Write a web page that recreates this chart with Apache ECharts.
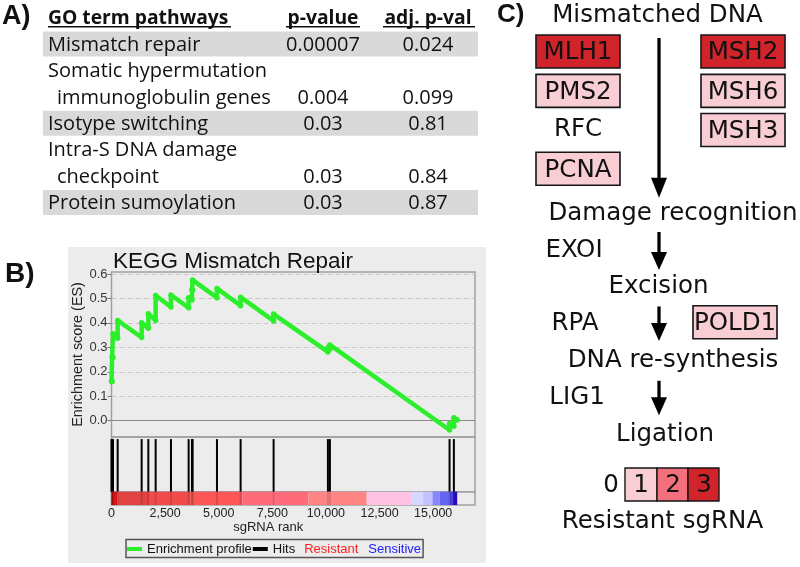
<!DOCTYPE html>
<html><head><meta charset="utf-8">
<script src="https://cdn.jsdelivr.net/npm/echarts@6/dist/echarts.min.js"></script>
<style>html,body{margin:0;padding:0;background:#fff}#c{width:800px;height:567px}</style>
</head><body><div id="c"></div>
<script>
// ---------- Panel A data ----------
const tableHeaders = ['GO term pathways', 'p-value', 'adj. p-val'];
const goTerms = [['Mismatch repair'], ['Somatic hypermutation', 'immunoglobulin genes'], ['Isotype switching'], ['Intra-S DNA damage', 'checkpoint'], ['Protein sumoylation']];
const pValues = ['0.00007', '0.004', '0.03', '0.03', '0.03'];
const adjPValues = ['0.024', '0.099', '0.81', '0.84', '0.87'];

// ---------- Panel B data ----------
const plotTitle = 'KEGG Mismatch Repair';
const esProfile = [[0,0.16],[30,0.16],[30,0.26],[70,0.258],[70,0.355],[287,0.337],[287,0.41],[1406,0.34],[1406,0.40],[1717,0.378],[1717,0.437],[2059,0.41],[2059,0.512],[2773,0.465],[2773,0.514],[3597,0.462],[3597,0.503],[3752,0.494],[3752,0.535],[3783,0.533],[3783,0.575],[4918,0.503],[4918,0.541],[6021,0.47],[6021,0.505],[7559,0.408],[7559,0.436],[10092,0.281],[10092,0.298],[10185,0.293],[10185,0.31],[15763,-0.038],[15763,-0.011],[15965,-0.023],[15965,0.012],[16120,0.003]];
const hitRanks = [0,30,70,287,1406,1717,2059,2773,3597,3752,3783,4918,6021,7559,10092,10185,15763,15965];
const rankBins = [[0,270],[270,1750],[1750,3700],[3700,6100],[6100,9180],[9180,11900],[11900,13990],[13990,14530],[14530,14970],[14970,15310],[15310,15780],[15780,15930],[15930,16120]];
const rankMax = 16950;
const xTicks = [0, 2500, 5000, 7500, 10000, 12500, 15000];
const yTicks = [0, 0.1, 0.2, 0.3, 0.4, 0.5, 0.6];
const legendNames = ['Enrichment profile', 'Hits', 'Resistant', 'Sensitive'];

// ---------- Panel C data ----------
const steps = ['Mismatched DNA', 'Damage recognition', 'Excision', 'DNA re-synthesis', 'Ligation'];
const factors = ['RFC', 'EXOI', 'RPA', 'LIG1'];
const geneNames = ['MLH1', 'PMS2', 'PCNA', 'MSH2', 'MSH6', 'MSH3', 'POLD1'];
const geneLevels = [3, 1, 1, 3, 1, 1, 1];
const scaleLevels = [0, 1, 2, 3];
const scaleTitle = 'Resistant sgRNA';

// ---------- styles ----------
const binColors = ['#d91616','#e24242','#f14b4b','#fd5656','#ff6b7b','#ff8585','#ffc2e2','#d6d6ff','#c3c3ff','#8787ff','#6464f0','#4a40e0','#2a08c4'];
const levelColors = ['#ffffff', '#f8cdd3', '#f4707c', '#d0232a'];
const FA = 'Open Sans', FB = 'Liberation Sans', FC = 'DejaVu Sans';

const g = [];
function txt(x, y, text, size, family, opt) {
  opt = opt || {};
  g.push({type:'text', x:x, y:y, z:10, style:{text:text, fontSize:size, fontFamily:family, fontWeight:opt.bold?'bold':'normal', fill:opt.fill||'#111', align:opt.align||'left', verticalAlign:'middle'}});
}
// Panel labels
txt(2, 17, 'A)', 27, FB, {bold:true});
txt(5, 274, 'B)', 28, FB, {bold:true});
txt(497, 15, 'C)', 26, FB, {bold:true});

// ---------- Panel A ----------
const pitch = 26.4, firstLine = 44;
const colP = 323, colA = 428;
txt(48, 19, tableHeaders[0], 19.3, FA, {bold:true});
txt(colP, 19, tableHeaders[1], 19.3, FA, {bold:true, align:'center'});
txt(colA, 19, tableHeaders[2], 19.3, FA, {bold:true, align:'center'});
[[48,231],[286,360],[383,475]].forEach(u => g.push({type:'line', z:10, shape:{x1:u[0], y1:26.8, x2:u[1], y2:26.8}, style:{stroke:'#111', lineWidth:1.5}}));
let ln = 0;
goTerms.forEach((lines, i) => {
  if (i % 2 === 0) {
    const cy = firstLine + pitch * ln;
    g.push({type:'rect', z:1, shape:{x:43, y:cy - 12.5, width:435, height:25}, style:{fill:'#d9d9d9'}});
  }
  lines.forEach((t, j) => {
    txt(j === 0 ? 48 : 57, firstLine + pitch * ln + 1, t, 20, FA);
    if (j === lines.length - 1) {
      txt(colP, firstLine + pitch * ln + 1, pValues[i], 20, FA, {align:'center'});
      txt(colA, firstLine + pitch * ln + 1, adjPValues[i], 20, FA, {align:'center'});
    }
    ln++;
  });
});

// ---------- Panel B background ----------
g.push({type:'rect', z:-5, shape:{x:68, y:247, width:418, height:316}, style:{fill:'#ececec'}});

// ---------- Panel C ----------
const fc = 24.5;
txt(657.5, 16, steps[0], fc, FC, {align:'center'});
txt(673, 213.5, steps[1], fc, FC, {align:'center'});
txt(658.5, 286.2, steps[2], fc, FC, {align:'center'});
txt(673, 360.5, steps[3], fc, FC, {align:'center'});
txt(665, 435, steps[4], fc, FC, {align:'center'});
const factorPos = [[578,129.2],[574,251],[575,323.5],[577,398]];
factors.forEach((f, i) => txt(factorPos[i][0], factorPos[i][1], f, fc, FC, {align:'center'}));
const geneBoxes = [[536,35],[536,74.4],[536,152.3],[701,35],[701,74.4],[701,113.5],[693,305.8]];
geneNames.forEach((n, i) => {
  const b = geneBoxes[i];
  g.push({type:'rect', z:5, shape:{x:b[0], y:b[1], width:84, height:33}, style:{fill:levelColors[geneLevels[i]], stroke:'#161616', lineWidth:1.6}});
  txt(b[0] + 42, b[1] + 18, n, fc, FC, {align:'center'});
});
function arrow(y1, y2, head) {
  g.push({type:'line', z:5, shape:{x1:659, y1:y1, x2:659, y2:y2 - head + 3}, style:{stroke:'#000', lineWidth:3.3}});
  g.push({type:'polygon', z:5, shape:{points:[[651,y2 - head],[667,y2 - head],[659,y2]]}, style:{fill:'#000'}});
}
arrow(38, 197.7, 20); arrow(232, 270, 18); arrow(306.5, 341, 18); arrow(380.8, 415.3, 18);
const scaleX = [605, 625, 657, 688];
scaleLevels.forEach((lv, i) => {
  if (lv === 0) { txt(611, 486, String(lv), fc, FC, {align:'center'}); return; }
  g.push({type:'rect', z:5, shape:{x:scaleX[i], y:468, width:(i === 1 ? 32 : 31), height:33}, style:{fill:levelColors[lv], stroke:'#161616', lineWidth:1.4}});
  txt(scaleX[i] + 16, 486, String(lv), fc, FC, {align:'center'});
});
txt(662.5, 522, scaleTitle, fc, FC, {align:'center'});

// ---------- chart ----------
const gridL = 111.5, gridW = 475 - 111.5;
const chart = echarts.init(document.getElementById('c'));
chart.setOption({
  backgroundColor: '#ffffff',
  animation: false,
  title: {text: plotTitle, left: 108, top: 245, textStyle: {fontFamily: FB, fontSize: 22.5, fontWeight: 'normal', color: '#111'}},
  grid: [
    {left: gridL, top: 272, width: gridW, height: 165, show: true, borderColor: '#a0a0a0', borderWidth: 1.5, backgroundColor: 'transparent'},
    {left: gridL, top: 437, width: gridW, height: 54.7, show: true, borderColor: '#a0a0a0', borderWidth: 1.5, backgroundColor: 'transparent'},
    {left: gridL, top: 491.7, width: gridW, height: 13.3, show: true, borderColor: '#a0a0a0', borderWidth: 1.5, backgroundColor: 'transparent'}
  ],
  xAxis: [
    {gridIndex: 0, type: 'value', min: 0, max: rankMax, show: false},
    {gridIndex: 1, type: 'value', min: 0, max: rankMax, show: false},
    {gridIndex: 2, type: 'value', min: 0, max: rankMax,
     axisLine: {show: false}, axisTick: {show: false}, splitLine: {show: false},
     axisLabel: {customValues: xTicks, fontFamily: FB, fontSize: 12.5, color: '#222', margin: 2},
     name: 'sgRNA rank', nameLocation: 'middle', nameGap: 15,
     nameTextStyle: {fontFamily: FB, fontSize: 13, color: '#222', padding: [0, 50, 0, 0]}}
  ],
  yAxis: [
    {gridIndex: 0, type: 'value', min: -0.0667, max: 0.608,
     axisLine: {show: false},
     axisTick: {show: true, customValues: yTicks, length: 4, lineStyle: {color: '#777'}},
     axisLabel: {customValues: yTicks, formatter: v => v.toFixed(1), fontFamily: FB, fontSize: 13, color: '#333', margin: 4},
     splitLine: {show: true, lineStyle: {color: '#c6c6c6', type: [5, 3], width: 1}},
     name: 'Enrichment score (ES)', nameLocation: 'middle', nameGap: 19,
     nameTextStyle: {fontFamily: FB, fontSize: 14.4, color: '#222'}},
    {gridIndex: 1, type: 'value', min: 0, max: 1.04, show: false},
    {gridIndex: 2, type: 'value', min: 0, max: 1, show: false}
  ],
  legend: {
    left: 126, top: 539.5, padding: [3, 2, 2, 1], itemGap: 1, itemWidth: 15, itemHeight: 4,
    borderColor: '#555', borderWidth: 1.5, selectedMode: false,
    data: [{name: legendNames[0], icon: 'rect'}, {name: legendNames[1], icon: 'rect'}],
    formatter: n => n === legendNames[1] ? n + '{r|' + legendNames[2] + '}{s|' + legendNames[3] + '}' : n,
    textStyle: {fontFamily: FB, fontSize: 13, color: '#111',
      rich: {r: {fontFamily: FB, fontSize: 13, color: '#ff2020', padding: [0, 0, 0, 9]},
             s: {fontFamily: FB, fontSize: 13, color: '#2020ff', padding: [0, 0, 0, 10]}}}
  },
  series: [
    {name: legendNames[0], type: 'line', xAxisIndex: 0, yAxisIndex: 0, data: esProfile,
     color: '#2bef2b', lineStyle: {width: 4.5, color: '#2bef2b'}, symbol: 'circle', symbolSize: 5.5,
     showAllSymbol: true, itemStyle: {color: '#2bef2b'}, z: 5,
     markLine: {silent: true, symbol: 'none', label: {show: false}, lineStyle: {color: '#8a8a8a', type: 'solid', width: 1.2}, data: [{yAxis: 0}], z: 3}},
    {name: legendNames[1], type: 'custom', xAxisIndex: 1, yAxisIndex: 1, color: '#000', itemStyle: {color: '#000'},
     data: hitRanks.map(r => [r, 1]), encode: {x: 0, y: 1},
     renderItem: (p, api) => {
       const top = api.coord([api.value(0), 1]);
       const bot = api.coord([api.value(0), 0]);
       return {type: 'rect', shape: {x: top[0] - 1, y: top[1], width: 2, height: bot[1] - top[1]}, style: {fill: '#000'}};
     }},
    {name: 'bins', type: 'custom', xAxisIndex: 2, yAxisIndex: 2, silent: true,
     data: rankBins.map((b, i) => [b[0], b[1], i]), encode: {x: [0, 1]},
     renderItem: (p, api) => {
       const a = api.coord([api.value(0), 1]);
       const b = api.coord([api.value(1), 0]);
       return {type: 'rect', shape: {x: a[0], y: a[1], width: b[0] - a[0], height: b[1] - a[1]}, style: {fill: binColors[api.value(2)]}};
     }},
    {name: 'hitShade', type: 'custom', xAxisIndex: 2, yAxisIndex: 2, silent: true, z: 3,
     data: hitRanks.map(r => [r, 1]), encode: {x: 0, y: 1},
     renderItem: (p, api) => {
       const top = api.coord([api.value(0), 1]);
       const bot = api.coord([api.value(0), 0]);
       return {type: 'rect', shape: {x: top[0] - 1, y: top[1], width: 2, height: bot[1] - top[1]}, style: {fill: 'rgba(0,0,0,0.13)'}};
     }}
  ],
  graphic: {elements: g}
});
</script>
</body></html>
